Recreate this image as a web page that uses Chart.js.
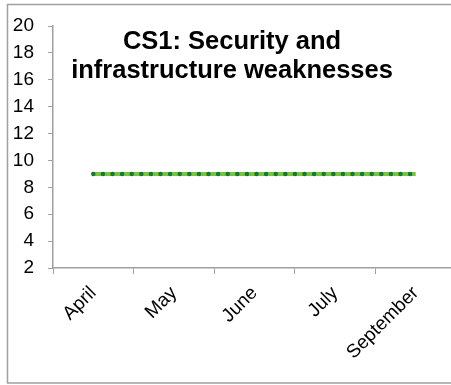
<!DOCTYPE html>
<html lang="en">
  <head>
    <meta charset="UTF-8" />
    <title>CS1: Security and infrastructure weaknesses</title>
    <script src="https://cdn.jsdelivr.net/npm/chart.js"></script>
    <style>
      html, body { margin: 0; padding: 0; background: #fff; overflow: hidden; }
      #wrap { position: absolute; left: 0; top: 0; width: 470px; height: 385px; }
    </style>
  </head>
  <body>
    <div id="wrap"><canvas id="lineChart"></canvas></div>

    <script>
      // chart data
      const months = ["April", "May", "June", "July", "September"];
      const scores = [9, 9, 9, 9, 9];
      const titleLines = ["CS1: Security and", "infrastructure weaknesses"];
      const yMin = 2, yMax = 20, yStep = 2;

      const axisGray = "#a0a0a0";
      const fontFamily = "'Liberation Sans', Arial, sans-serif";

      // outer frame + title drawn over the plot, like the Excel original
      const frameAndTitle = {
        id: "frameAndTitle",
        beforeDraw(chart) {
          const c = chart.ctx;
          c.save();
          c.strokeStyle = axisGray;
          c.lineWidth = 1.5;
          c.strokeRect(7.5, 4.5, 600, 378.5);
          c.restore();
        },
        afterDraw(chart) {
          const c = chart.ctx;
          c.save();
          c.fillStyle = "#000";
          c.font = "bold 25.5px " + fontFamily;
          c.textAlign = "center";
          c.textBaseline = "alphabetic";
          c.fillText(titleLines[0], 232, 49);
          c.fillText(titleLines[1], 232, 78);
          c.restore();
        },
      };

      const ctx = document.getElementById("lineChart").getContext("2d");

      new Chart(ctx, {
        type: "line",
        data: {
          labels: months,
          datasets: [
            {
              // dark dotted overlay
              data: scores,
              borderColor: "#137836",
              borderWidth: 4.5,
              borderDash: [0, 9.6],
              borderCapStyle: "round",
              pointRadius: 0,
              tension: 0,
            },
            {
              // light green base line
              data: scores,
              borderColor: "#7cc242",
              borderWidth: 4,
              pointRadius: 0,
              tension: 0,
            },
          ],
        },
        options: {
          responsive: true,
          maintainAspectRatio: false,
          animation: false,
          layout: { padding: { left: 0, top: 26, right: 14, bottom: 0 } },
          plugins: {
            legend: { display: false },
            title: { display: false },
            tooltip: { enabled: false },
          },
          scales: {
            x: {
              offset: true,
              grid: {
                offset: true,
                drawOnChartArea: false,
                drawTicks: true,
                tickLength: 6,
                color: axisGray,
              },
              border: { color: axisGray, width: 1.5 },
              ticks: {
                color: "#000",
                font: { family: fontFamily, size: 19 },
                maxRotation: 45,
                minRotation: 45,
                padding: 8,
              },
              afterFit(scale) { scale.height = 117; },
            },
            y: {
              min: yMin,
              max: yMax,
              grid: {
                drawOnChartArea: false,
                drawTicks: true,
                tickLength: 5,
                color: axisGray,
              },
              border: { color: axisGray, width: 1.5 },
              ticks: {
                stepSize: yStep,
                color: "#000",
                font: { family: fontFamily, size: 19 },
                padding: 14,
              },
              afterFit(scale) { scale.width = 53; },
            },
          },
        },
        plugins: [frameAndTitle],
      });
    </script>
  </body>
</html>
